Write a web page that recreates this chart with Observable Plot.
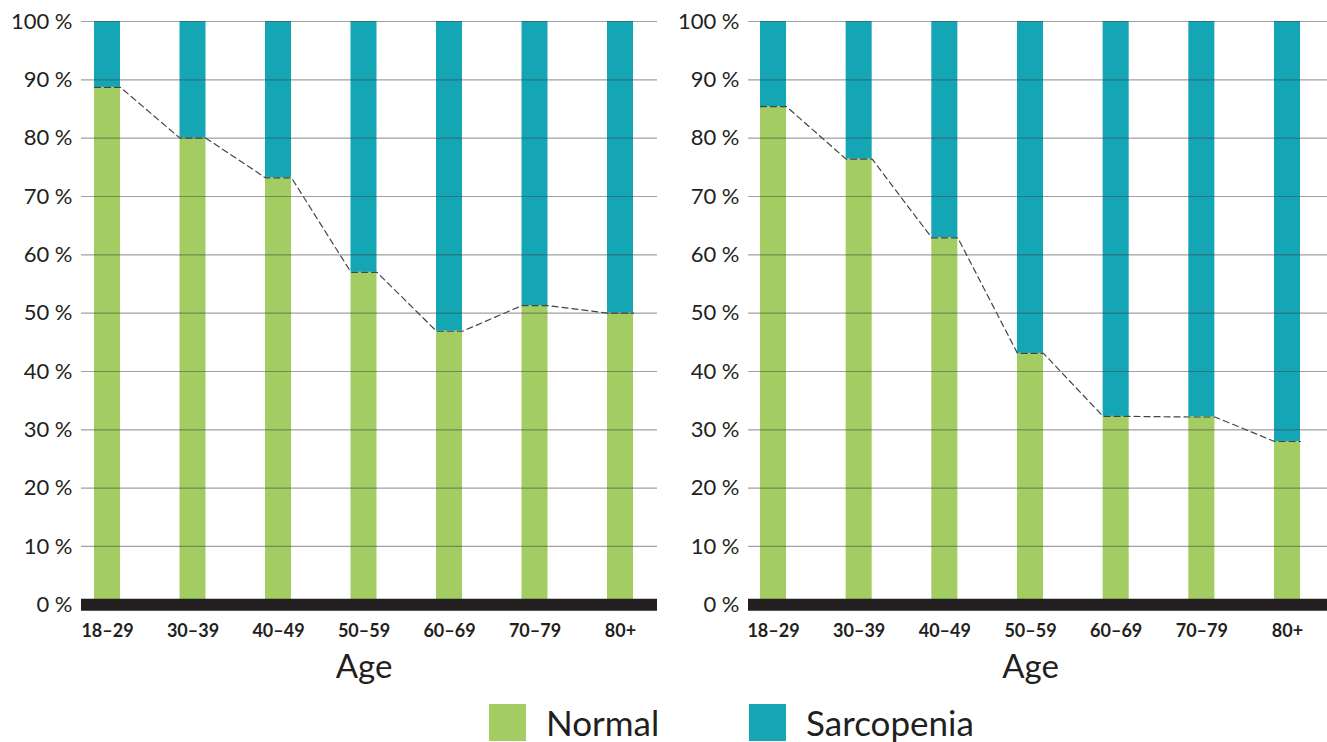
<!DOCTYPE html>
<html>
<head>
<meta charset="utf-8">
<script src="https://cdn.jsdelivr.net/npm/d3@7"></script>
<script src="https://cdn.jsdelivr.net/npm/@observablehq/plot@0.6"></script>
<style>
  html, body { margin: 0; padding: 0; background: #fff; }
  #wrap { position: relative; width: 1327px; height: 742px; overflow: hidden; font-family: Lato, sans-serif; color: #231f20; }
  .chart { position: absolute; top: 0; }
  .leg { position: absolute; top: 704px; display: flex; align-items: center; }
  .sw { width: 37px; height: 37px; }
  .lt { font-size: 35px; margin-left: 20px; line-height: 37px; }
</style>
</head>
<body>
<div id="wrap">
  <div id="left" class="chart" style="left:0px"></div>
  <div id="right" class="chart" style="left:664px"></div>
  <div id="legend"></div>
</div>
<script>
const ages = ["18–29", "30–39", "40–49", "50–59", "60–69", "70–79", "80+"];
const normalLeft = [88.7, 80.0, 73.2, 57.0, 46.9, 51.3, 50.0];
const normalRight = [85.4, 76.4, 62.9, 43.1, 32.3, 32.2, 28.0];
const yTicks = [0, 10, 20, 30, 40, 50, 60, 70, 80, 90, 100];
const seriesNames = ["Normal", "Sarcopenia"];
const seriesColors = ["#a3cd62", "#15a6b5"];
const xTitle = "Age";

const hw = 0.152; // half bar width in band units

function chart(normal, opt) {
  const idx = ages.map((d, i) => i);
  const bars = ages.map((a, i) => ({i, a, n: normal[i]}));
  const pts = bars.flatMap(b => [{x: b.i - hw, y: b.n}, {x: b.i + hw, y: b.n}]);
  const H = 690, top = 21, plotH = 583.3;
  return Plot.plot({
    width: opt.width,
    height: H,
    marginLeft: opt.ml,
    marginRight: opt.mr,
    marginTop: top,
    marginBottom: H - top - plotH,
    style: {fontFamily: "Lato, sans-serif", color: "#231f20", background: "transparent", overflow: "visible"},
    x: {domain: opt.xd, label: null},
    y: {domain: [0, 100], label: null},
    marks: [
      Plot.rectY(bars, {x1: d => d.i - hw, x2: d => d.i + hw, y1: 0, y2: "n", fill: seriesColors[0]}),
      Plot.rectY(bars, {x1: d => d.i - hw, x2: d => d.i + hw, y1: "n", y2: 100, fill: seriesColors[1]}),
      Plot.ruleY(yTicks, {stroke: "#444", strokeOpacity: 0.5, strokeWidth: 1.2}),
      Plot.line(pts, {x: "x", y: "y", stroke: "#444", strokeWidth: 1.2, strokeDasharray: "6,4"}),
      Plot.ruleY([0], {stroke: "#231f20", strokeWidth: 12}),
      Plot.axisY(yTicks, {tickSize: 0, tickPadding: 9, tickFormat: d => d + "\u202F%", fontSize: 22, fill: "#231f20", label: null}),
      Plot.axisX(idx, {tickSize: 0, tickPadding: 19, tickFormat: i => ages[i], fontSize: 18, fontWeight: "bold", fill: "#231f20", label: null}),
      Plot.text([xTitle], {x: () => (ages.length - 1) / 2, frameAnchor: "bottom", dy: 63, lineAnchor: "middle", text: d => d, fontSize: 33, fill: "#231f20"})
    ]
  });
}

document.getElementById("left").appendChild(chart(normalLeft, {width: 663, ml: 81, mr: 6, xd: [-26 / 85.5, 6 + 37 / 85.5]}));
document.getElementById("right").appendChild(chart(normalRight, {width: 663, ml: 84, mr: 0, xd: [-25 / 85.67, 6 + 40 / 85.67]}));

const legendLeft = [489, 749];
const lg = document.getElementById("legend");
seriesNames.forEach((name, k) => {
  const item = document.createElement("div");
  item.className = "leg";
  item.style.left = legendLeft[k] + "px";
  const sw = document.createElement("div");
  sw.className = "sw";
  sw.style.background = seriesColors[k];
  const t = document.createElement("span");
  t.className = "lt";
  t.textContent = name;
  item.appendChild(sw);
  item.appendChild(t);
  lg.appendChild(item);
});
</script>
</body>
</html>
